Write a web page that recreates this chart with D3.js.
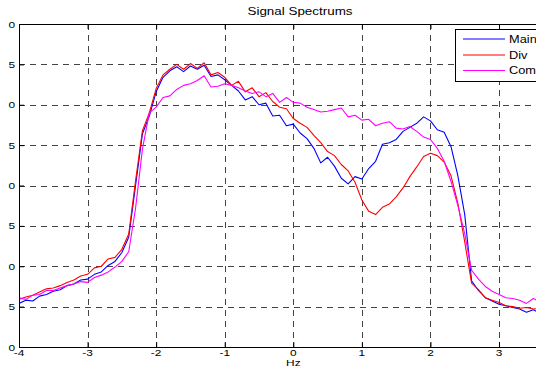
<!DOCTYPE html>
<html><head><meta charset="utf-8">
<script src="https://cdn.jsdelivr.net/npm/d3@7"></script>
<style>body{margin:0;background:#fff;overflow:hidden}svg{display:block}</style>
</head><body>
<svg id="c" width="536" height="378"></svg>
<script>
const freqs=[-4.0,-3.9,-3.8,-3.7,-3.6,-3.5,-3.4,-3.3,-3.2,-3.1,
-3.0,-2.9,-2.8,-2.7,-2.6,-2.5,-2.4,-2.3,-2.2,-2.1,
-2.0,-1.9,-1.8,-1.7,-1.6,-1.5,-1.4,-1.3,-1.2,-1.1,
-1.0,-0.9,-0.8,-0.7,-0.6,-0.5,-0.4,-0.3,-0.2,-0.1,
0.0,0.1,0.2,0.3,0.4,0.5,0.6,0.7,0.8,0.9,
1.0,1.1,1.2,1.3,1.4,1.5,1.6,1.7,1.8,1.9,
2.0,2.1,2.2,2.3,2.4,2.5,2.6,2.7,2.8,2.9,
3.0,3.1,3.2,3.3,3.4,3.5,3.6];
const mainVals=[-44.6,-44.2,-44.3,-43.7,-43.5,-43.1,-42.9,-42.4,-42.2,-41.7,
-41.6,-41.0,-40.7,-39.9,-39.4,-38.3,-36.4,-30.0,-23.6,-21.4,
-18.4,-16.6,-15.8,-15.3,-15.9,-15.2,-15.6,-15.1,-16.5,-16.3,
-16.9,-17.6,-18.3,-19.4,-19.0,-20.0,-19.8,-21.4,-21.3,-22.6,
-22.4,-23.5,-24.2,-25.4,-27.2,-26.5,-27.6,-29.1,-29.8,-28.9,
-29.2,-27.9,-27.0,-24.9,-24.7,-24.3,-23.3,-22.8,-22.3,-21.5,
-22.0,-23.1,-23.4,-25.2,-28.8,-33.6,-41.8,-43.0,-43.9,-44.3,
-44.7,-44.9,-45.1,-45.3,-45.7,-45.4,-45.8];
const divVals=[-44.1,-43.8,-43.6,-43.2,-42.8,-42.7,-42.4,-42.0,-41.7,-41.2,
-41.0,-40.2,-40.0,-39.1,-38.9,-37.9,-36.0,-29.4,-23.2,-21.0,
-18.0,-16.3,-15.6,-15.0,-15.6,-14.9,-15.5,-14.8,-16.3,-16.0,
-16.6,-17.6,-17.1,-18.4,-17.9,-19.0,-18.5,-19.6,-20.3,-20.5,
-21.7,-22.3,-22.8,-23.8,-24.7,-25.8,-26.3,-27.4,-28.2,-29.6,
-31.8,-33.2,-33.6,-32.7,-32.3,-31.4,-30.3,-28.9,-27.7,-26.4,
-26.0,-26.3,-27.1,-28.8,-32.2,-37.0,-42.1,-42.9,-43.9,-44.2,
-44.5,-44.9,-45.0,-45.2,-45.1,-45.3,-45.2];
const combVals=[-43.9,-44.1,-43.6,-43.5,-43.0,-43.0,-42.7,-42.4,-42.2,-41.9,
-42.0,-41.4,-41.1,-40.7,-40.1,-39.4,-38.2,-32.8,-25.5,-21.0,
-20.3,-19.1,-18.9,-18.1,-17.6,-17.4,-17.0,-16.4,-17.8,-17.7,
-17.4,-17.6,-17.9,-18.3,-18.6,-18.4,-19.0,-18.6,-19.7,-19.1,
-19.7,-19.8,-20.3,-20.6,-20.9,-20.8,-20.6,-20.4,-21.5,-21.3,
-21.9,-21.8,-22.6,-22.3,-22.1,-22.9,-23.0,-22.7,-23.3,-24.0,
-24.3,-25.4,-27.0,-29.5,-32.5,-36.0,-40.5,-41.6,-42.5,-43.1,
-43.5,-43.9,-44.0,-44.2,-44.6,-44.0,-44.4];
const seriesNames=["Main","Div","Comb"];
const seriesColors=["#0000ff","#ff0000","#ff00ff"];
const xTicks=[-4,-3,-2,-1,0,1,2,3,4];
const xTickLabels=["-4","-3","-2","-1","0","1","2","3",""];
const yTicks=[-10,-15,-20,-25,-30,-35,-40,-45,-50];
const yTickLabels=["0","5","0","5","0","5","0","5","0"];
const titleText="Signal Spectrums";
const xLabelText="Hz";

const svg=d3.select("#c");
const L=19,T=24,B=347,R=567.6;
const x=d3.scaleLinear().domain([-4,4]).range([L,R]);
const y=d3.scaleLinear().domain([-50,-10]).range([B,T]);
const font="'Liberation Sans',Arial,Helvetica,sans-serif";
const SX=1.25;

svg.append("rect").attr("x",L).attr("y",T).attr("width",R-L).attr("height",B-T).attr("fill","#fff");
svg.append("clipPath").attr("id","pc").append("rect").attr("x",L).attr("y",T).attr("width",R-L).attr("height",B-T);

// grid
const g=svg.append("g").attr("stroke","#444").attr("stroke-width",1).attr("stroke-dasharray","6,5").attr("shape-rendering","crispEdges");
g.selectAll(".vx").data(xTicks.slice(1,-1)).join("line")
 .attr("x1",d=>Math.round(x(d))+0.5).attr("x2",d=>Math.round(x(d))+0.5).attr("y1",T).attr("y2",B);
g.selectAll(".hy").data(yTicks.slice(1,-1)).join("line")
 .attr("y1",d=>Math.round(y(d))+0.5).attr("y2",d=>Math.round(y(d))+0.5).attr("x1",L).attr("x2",R);

// lines
const series=[mainVals,divVals,combVals];
const line=d3.line().x((d,i)=>x(freqs[i])).y(d=>y(d));
const lg=svg.append("g").attr("clip-path","url(#pc)");
series.forEach((vals,k)=>{
  lg.append("path").attr("d",line(vals)).attr("fill","none")
    .attr("stroke",seriesColors[k]).attr("stroke-width",1.1).attr("stroke-linejoin","round");
});

// axes (ticks inward)
svg.append("g").attr("transform",`translate(0,${B})`).call(d3.axisBottom(x).tickValues(xTicks).tickSize(-5).tickFormat(""))
 .call(a=>a.select(".domain").remove());
svg.append("g").attr("transform",`translate(0,${T})`).call(d3.axisTop(x).tickValues(xTicks).tickSize(-5).tickFormat(""))
 .call(a=>a.select(".domain").remove());
svg.append("g").attr("transform",`translate(${L},0)`).call(d3.axisLeft(y).tickValues(yTicks).tickSize(-5).tickFormat(""))
 .call(a=>a.select(".domain").remove());
svg.selectAll(".tick line").attr("stroke","#000");
svg.append("rect").attr("x",L+0.5).attr("y",T+0.5).attr("width",R-L).attr("height",B-T)
 .attr("fill","none").attr("stroke","#000").attr("stroke-width",1).attr("shape-rendering","crispEdges");

// tick labels
svg.selectAll(".xl").data(xTicks.filter((d,i)=>xTickLabels[i]!=="")).join("text")
 .attr("transform",d=>`translate(${x(d)},${B+8.5}) scale(${SX},1)`)
 .attr("text-anchor","middle").attr("font-family",font).attr("font-size",9.5).attr("fill","#000")
 .text((d,i)=>xTickLabels[i]);
svg.selectAll(".yl").data(yTicks).join("text")
 .attr("transform",d=>`translate(${L-4},${y(d)+3.5}) scale(${SX},1)`)
 .attr("text-anchor","end").attr("font-family",font).attr("font-size",9.5).attr("fill","#000")
 .text((d,i)=>yTickLabels[i]);

svg.append("text").attr("transform",`translate(${(L+R)/2},366) scale(${SX},1)`)
 .attr("text-anchor","middle").attr("font-family",font).attr("font-size",9.5).text(xLabelText);
svg.append("text").attr("transform",`translate(300,15) scale(1.22,1)`)
 .attr("text-anchor","middle").attr("font-family",font).attr("font-size",11).text(titleText);

// legend
const lgx=455.5, lgy=29.5;
svg.append("rect").attr("x",lgx).attr("y",lgy).attr("width",140).attr("height",52)
 .attr("fill","#fff").attr("stroke","#000").attr("stroke-width",1);
const rows=[39,55,70.5];
seriesNames.forEach((n,k)=>{
  svg.append("line").attr("x1",463).attr("x2",505).attr("y1",rows[k]).attr("y2",rows[k])
    .attr("stroke",seriesColors[k]).attr("stroke-width",1.1);
  svg.append("text").attr("transform",`translate(509,${rows[k]+3.8}) scale(1.22,1)`)
    .attr("font-family",font).attr("font-size",10.5).attr("fill","#000").text(n);
});
</script>
</body></html>
